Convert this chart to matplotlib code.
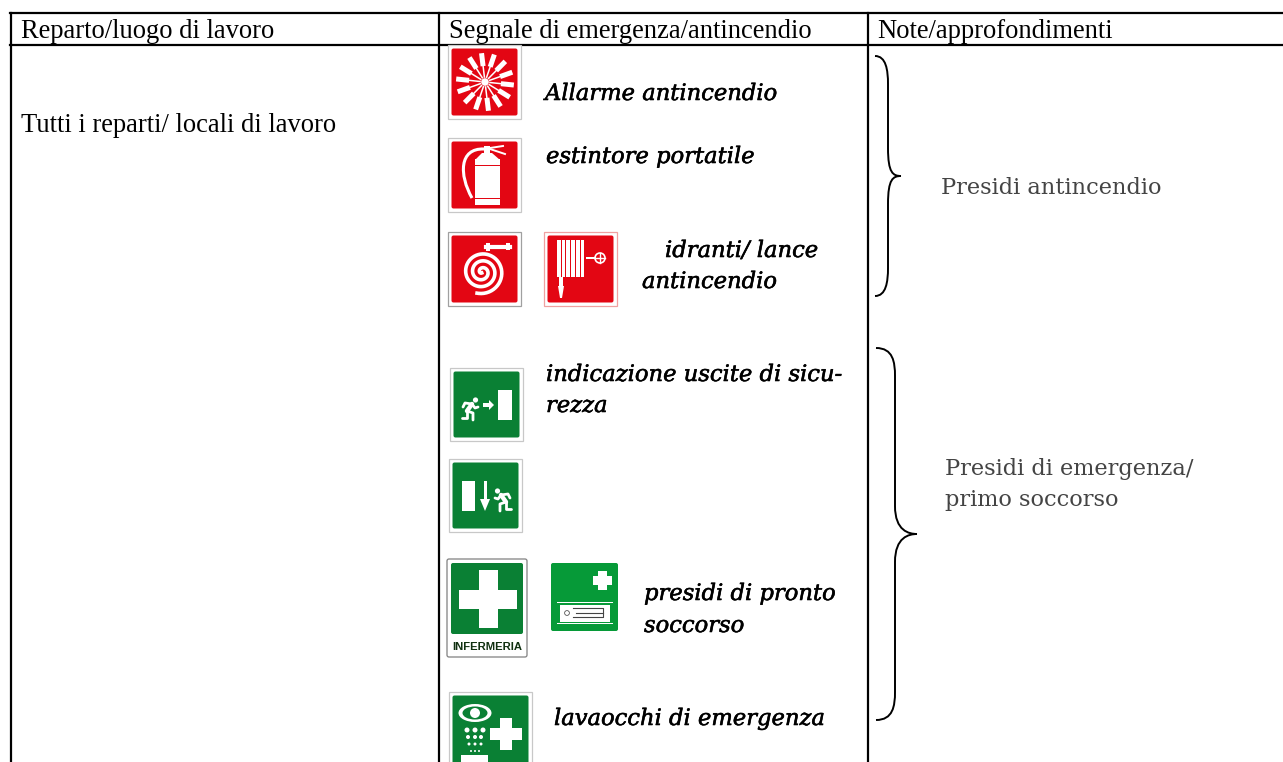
# -*- coding: utf-8 -*-
import numpy as np
import matplotlib
matplotlib.use('Agg')
import matplotlib.pyplot as plt
import matplotlib.patheffects as pe
from matplotlib.patches import Rectangle, FancyBboxPatch, Circle, Polygon, PathPatch, Ellipse
from matplotlib.path import Path

RED = '#e30613'
GREEN = '#0a8034'
GREEN2 = '#069a38'

headers = ['Reparto/luogo di lavoro', 'Segnale di emergenza/antincendio', 'Note/approfondimenti']
first_col = 'Tutti i reparti/ locali di lavoro'
sign_labels = ['Allarme antincendio', 'estintore portatile', 'idranti/ lance', 'antincendio',
               'indicazione uscite di sicu-', 'rezza', 'presidi di pronto', 'soccorso',
               'lavaocchi di emergenza']
note_labels = ['Presidi antincendio', 'Presidi di emergenza/', 'primo soccorso']

fig = plt.figure(figsize=(12.83, 7.62), dpi=100)
ax = fig.add_axes([0, 0, 1, 1])
ax.set_xlim(0, 1283)
ax.set_ylim(762, 0)
ax.axis('off')


def plate(x, y, w, h, color, edge='#c8c8c8', inset=3.5):
    ax.add_patch(Rectangle((x, y), w, h, fc='white', ec=edge, lw=0.9, zorder=2))
    ax.add_patch(FancyBboxPatch((x + inset, y + inset), w - 2 * inset, h - 2 * inset,
                                boxstyle='round,pad=0,rounding_size=2', fc=color, ec='none', zorder=3))


def wrect(x, y, w, h, color='white'):
    ax.add_patch(Rectangle((x, y), w, h, fc=color, ec='none', zorder=4))


def cross(cx, cy, arm, thick):
    wrect(cx - arm, cy - thick / 2, arm * 2, thick)
    wrect(cx - thick / 2, cy - arm, thick, arm * 2)


def runner(x, y, flip=False):
    # little running man drawn with thick strokes, x,y = hip
    k = -1 if flip else 1
    ax.add_patch(Circle((x + k * 6.5, y - 9), 2.6, fc='white', ec='none', zorder=4))
    limbs = [[(3, -5), (-2, 2)],                # torso
             [(-2, 2), (4, 4), (4, 11)],        # front leg
             [(-2, 2), (-2, 9), (-7, 9)],       # back leg
             [(3, -5), (-4, -6), (-6, -2)],     # back arm
             [(3, -5), (6, -1), (9, -2)]]       # front arm
    for i, limb in enumerate(limbs):
        ax.plot([x + k * p[0] for p in limb], [y + p[1] for p in limb],
                color='white', lw=3.2 if i == 0 else 2.0, solid_capstyle='round', zorder=4)


# table lines
lw_tab = 1.6
ax.plot([10, 1283], [13, 13], color='black', lw=lw_tab)
ax.plot([10, 1283], [45, 45], color='black', lw=lw_tab)
for xl in [11, 439, 868]:
    ax.plot([xl, xl], [13, 762], color='black', lw=lw_tab)

serif = 'Liberation Serif'
for xt, s in zip([21, 449, 877], headers):
    ax.text(xt, 32, s, family=serif, fontsize=19.1, va='center', color='black')
ax.text(21, 126, first_col, family=serif, fontsize=19.1, va='center', color='black')

# alarm sign
plate(448, 45, 73, 74, RED)
cx, cy = 485, 82
for a in np.arange(0, 360, 360 / 14):
    t = np.radians(a + 6)
    ax.plot([cx + 5 * np.cos(t), cx + 19 * np.cos(t)], [cy + 5 * np.sin(t), cy + 19 * np.sin(t)],
            color='white', lw=1.1, zorder=4)
    ax.plot([cx + 16 * np.cos(t), cx + 29 * np.cos(t)], [cy + 16 * np.sin(t), cy + 29 * np.sin(t)],
            color='white', lw=3.6, solid_capstyle='butt', zorder=4)
ax.add_patch(Circle((cx, cy), 3.8, fc='white', ec='none', zorder=4))

# extinguisher
plate(448, 138, 73, 74, RED)
wrect(475, 159, 25, 46)
wrect(475, 165, 25, 1, RED)
wrect(475, 198, 25, 1, RED)
ax.add_patch(Polygon([(475, 160), (482, 153), (492, 153), (500, 160)], fc='white', ec='none', zorder=4))
wrect(484, 146, 6, 8)
ax.plot([490, 503], [148, 146], color='white', lw=1.4, zorder=4)
ax.plot([490, 505], [149, 154], color='white', lw=1.4, zorder=4)
ax.add_patch(PathPatch(Path([(484, 149), (459, 148), (459, 175), (472, 198)],
                            [Path.MOVETO, Path.CURVE4, Path.CURVE4, Path.CURVE4]),
                       fc='none', ec='white', lw=2.2, zorder=4))

# hose reel
plate(448, 232, 73, 74, RED, edge='#a0a0a0')
cx, cy = 482, 272
th = np.linspace(0, 3 * 2 * np.pi, 300)
ax.plot(cx + (1 + 1.1 * th) * np.cos(th + 1.8), cy + (1 + 1.1 * th) * np.sin(th + 1.8),
        color='white', lw=2.6, zorder=4)
ax.plot([486, 510], [247, 247], color='white', lw=3, zorder=4)
wrect(486, 243, 4, 8)
wrect(506, 243, 4, 7)

# hose cabinet
plate(544, 232, 73, 74, RED, edge='#f0a0a0')
for xh in np.arange(557, 585, 4.7):
    wrect(xh, 240, 3.7, 37)
wrect(559, 277, 4, 10)
ax.add_patch(Polygon([(558, 286), (564, 286), (562, 298), (560, 298)], fc='white', ec='none', zorder=4))
wrect(586, 257, 10, 1.6)
ax.add_patch(Circle((600, 258), 5, fc='none', ec='white', lw=1.2, zorder=4))
ax.plot([595, 605], [258, 258], color='white', lw=1, zorder=4)
ax.plot([600, 600], [253, 263], color='white', lw=1, zorder=4)

# exit right
plate(450, 368, 73, 73, GREEN)
wrect(498, 390, 14, 30)
ax.add_patch(Polygon([(483, 403), (489, 403), (489, 400), (494, 405), (489, 410), (489, 407), (483, 407)],
                     fc='white', ec='none', zorder=4))
runner(469, 409)

# exit down
plate(449, 459, 73, 73, GREEN)
wrect(462, 481, 13, 30)
wrect(484, 481, 2.6, 22)
ax.add_patch(Polygon([(480, 499), (490, 499), (485, 511)], fc='white', ec='none', zorder=4))
runner(504, 500, flip=True)

# infermeria
ax.add_patch(FancyBboxPatch((447, 559), 80, 98, boxstyle='round,pad=0,rounding_size=2',
                            fc='white', ec='#808080', lw=0.9, zorder=2))
ax.add_patch(FancyBboxPatch((451, 563), 72, 71, boxstyle='round,pad=0,rounding_size=2',
                            fc=GREEN, ec='none', zorder=3))
cross(488, 599, 29, 19)
ax.text(487, 647, 'INFERMERIA', family='Liberation Sans', weight='bold', fontsize=8.1,
        ha='center', va='center', color='#103010', zorder=5)

# stretcher sign
ax.add_patch(FancyBboxPatch((551, 563), 67, 68, boxstyle='round,pad=0,rounding_size=2',
                            fc=GREEN2, ec='none', zorder=3))
cross(602, 580, 9.5, 9)
wrect(557, 602, 56, 1.2)
wrect(560, 605, 50, 17)
wrect(557, 623, 56, 1.2)
ax.add_patch(Circle((567, 613), 2.4, fc='white', ec='#555555', lw=0.6, zorder=5))
ax.plot([573, 603, 603, 573], [608, 608, 617, 617], color='#444444', lw=0.8, zorder=5)
ax.plot([576, 603], [612.5, 612.5], color='#444444', lw=0.8, zorder=5)

# eyewash
plate(449, 692, 83, 80, GREEN)
ax.add_patch(Ellipse((475, 713), 33, 18, fc='white', ec='none', zorder=4))
ax.add_patch(Ellipse((475, 713), 25, 13, fc=GREEN, ec='none', zorder=4.1))
ax.add_patch(Circle((475, 713), 5, fc='white', ec='none', zorder=4.2))
for yd, xs, r in [(730, [467, 475, 483], 2.5), (737, [468, 475, 481], 2.0),
                  (744, [469, 475, 481], 1.5), (751, [471, 475, 479], 1)]:
    for xd in xs:
        ax.add_patch(Circle((xd, yd), r, fc='white', ec='none', zorder=4))
wrect(461, 755, 27, 7)
cross(506, 734, 16, 12.5)

# italic labels
lab_pos = [(545, 94), (546, 157), (665, 251), (642, 282), (546, 375), (546, 406), (644, 594), (644, 626), (554, 719)]
for (xt, yt), s in zip(lab_pos, sign_labels):
    ax.text(xt, yt, s, family='DejaVu Serif', style='italic', fontsize=16.3, va='center', color='black',
            path_effects=[pe.withStroke(linewidth=0.4, foreground='black')])

note_pos = [(941, 188), (945, 469), (945, 500)]
for (xt, yt), s in zip(note_pos, note_labels):
    ax.text(xt, yt, s, family='DejaVu Serif', fontsize=16.2, va='center', color='#444444')


def brace(x0, xm, xt, y0, ymid, y1):
    # curly brace opening to the left, tip at xt
    r = 14
    verts = [(x0, y0), (xm - 2, y0), (xm, y0 + r), (xm, y0 + 2 * r),
             (xm, ymid - 2 * r), (xm, ymid - 3), (xt - 8, ymid), (xt, ymid),
             (xt - 8, ymid), (xm, ymid + 3), (xm, ymid + 2 * r),
             (xm, y1 - 2 * r), (xm, y1 - r), (xm - 2, y1), (x0, y1)]
    codes = [Path.MOVETO, Path.CURVE4, Path.CURVE4, Path.CURVE4,
             Path.LINETO, Path.CURVE4, Path.CURVE4, Path.CURVE4,
             Path.CURVE4, Path.CURVE4, Path.CURVE4,
             Path.LINETO, Path.CURVE4, Path.CURVE4, Path.CURVE4]
    ax.add_patch(PathPatch(Path(verts, codes), fc='none', ec='black', lw=1.4, zorder=3))


brace(875, 888, 901, 56, 176, 296)
brace(876, 895, 917, 348, 534, 720)

fig.savefig('out.png', dpi=100)
